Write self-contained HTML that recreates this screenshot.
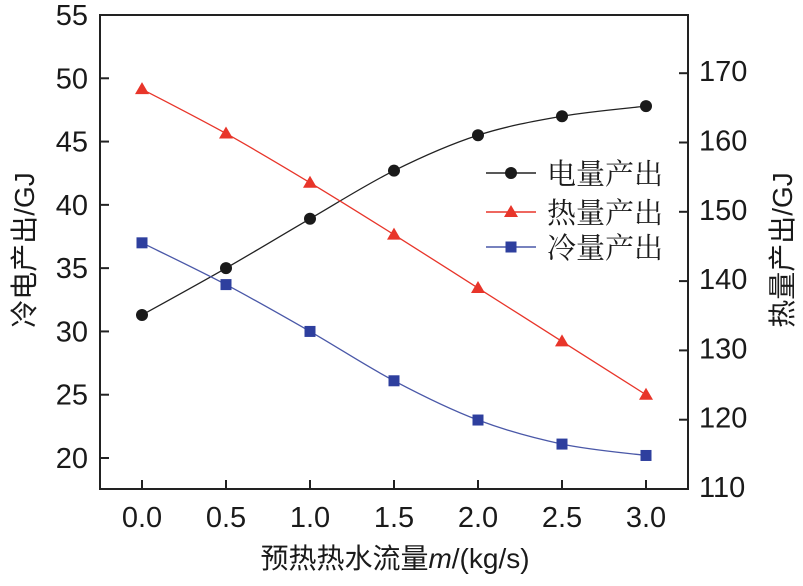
<!DOCTYPE html>
<html><head><meta charset="utf-8"><style>
body{margin:0;background:#fff;}
svg text{font-family:"Liberation Sans","Noto Sans CJK SC",sans-serif;fill:#1a1a1a;}
</style></head><body>
<svg id="chart" width="803" height="581" xmlns="http://www.w3.org/2000/svg">
<g id="axes"></g>
<g id="series"></g>
<g id="legend"></g>
</svg>
<script>
const xValues=[0,0.5,1.0,1.5,2.0,2.5,3.0];
const xTickLabels=["0.0","0.5","1.0","1.5","2.0","2.5","3.0"];
const elecValues=[31.3,35.0,38.9,42.7,45.5,47.0,47.8];
const heatValues=[167.7,161.3,154.2,146.7,139.0,131.3,123.6];
const coolValues=[37.0,33.7,30.0,26.1,23.0,21.1,20.2];
const leftTicks=[20,25,30,35,40,45,50,55];
const rightTicks=[110,120,130,140,150,160,170];

const L=100,R=688,T=15,B=489;
const sx=v=>142+(v/3)*504;
const syL=v=>15+(55-v)*(443/35);
const syR=v=>489-(v-110)*6.93;
const NS="http://www.w3.org/2000/svg";
function mk(tag,attrs,parent){const e=document.createElementNS(NS,tag);for(const k in attrs)e.setAttribute(k,attrs[k]);parent.appendChild(e);return e;}
const axes=document.getElementById('axes'),ser=document.getElementById('series'),leg=document.getElementById('legend');

let frame=mk('rect',{x:L,y:T,width:R-L,height:B-T,fill:'none',stroke:'#222','stroke-width':2},axes);


leftTicks.forEach(v=>{const y=syL(v);
 let t=mk('line',{x1:L,x2:L+9,y1:y,y2:y,stroke:'#222','stroke-width':2},axes);
 
 let tx=mk('text',{x:88,y:y+10,'text-anchor':'end','font-size':29},axes);tx.textContent=v;
 });
rightTicks.forEach(v=>{const y=syR(v);
 let t=mk('line',{x1:R-9,x2:R,y1:y,y2:y,stroke:'#222','stroke-width':2},axes);
 
 let tx=mk('text',{x:699,y:y+8,'font-size':29},axes);tx.textContent=v;
 });
xValues.forEach((v,i)=>{const x=sx(v);
 let t=mk('line',{x1:x,x2:x,y1:B-9,y2:B,stroke:'#222','stroke-width':2},axes);
 
 let tx=mk('text',{x:x,y:527,'text-anchor':'middle','font-size':29},axes);tx.textContent=xTickLabels[i];
 });

let xt=mk('text',{x:395,y:568,'text-anchor':'middle','font-size':28},axes);
xt.innerHTML='预热热水流量<tspan font-style="italic">m</tspan>/(kg/s)';

let yl=mk('text',{x:0,y:0,'text-anchor':'middle','font-size':28,transform:'translate(34,250) rotate(-90)'},axes);
yl.textContent='冷电产出/GJ';
let yr=mk('text',{x:0,y:0,'text-anchor':'middle','font-size':28,transform:'translate(792,250) rotate(-90)'},axes);
yr.textContent='热量产出/GJ';

function smooth(pts){let d=`M${pts[0][0]},${pts[0][1]}`;
 for(let i=0;i<pts.length-1;i++){const p0=pts[Math.max(i-1,0)],p1=pts[i],p2=pts[i+1],p3=pts[Math.min(i+2,pts.length-1)];
  const c1=[p1[0]+(p2[0]-p0[0])/6,p1[1]+(p2[1]-p0[1])/6],c2=[p2[0]-(p3[0]-p1[0])/6,p2[1]-(p3[1]-p1[1])/6];
  d+=`C${c1[0]},${c1[1]} ${c2[0]},${c2[1]} ${p2[0]},${p2[1]}`;}return d;}
function marker(type,x,y,color,parent){let m;
 if(type==='circle')m=mk('circle',{cx:x,cy:y,r:6,fill:color},parent);
 else if(type==='tri')m=mk('polygon',{points:`${x},${y-7} ${x-7},${y+5} ${x+7},${y+5}`,fill:color},parent);
 else m=mk('rect',{x:x-5.5,y:y-5.5,width:11,height:11,fill:color},parent);
 return m;}
const defs=[
 {name:'electricity',vals:elecValues,sy:syL,color:'#1a1a1a',line:'#222',m:'circle',label:'电量产出'},
 {name:'heat',vals:heatValues,sy:syR,color:'#e8352a',line:'#e8352a',m:'tri',label:'热量产出'},
 {name:'cooling',vals:coolValues,sy:syL,color:'#2e3f9e',line:'#4a58a8',m:'rect',label:'冷量产出'}];
defs.forEach((s,k)=>{
 const pts=xValues.map((v,i)=>[sx(v),s.sy(s.vals[i])]);
 let p=mk('path',{d:smooth(pts),fill:'none',stroke:s.line,'stroke-width':1.3},ser);
 
 pts.forEach(pt=>{let m=marker(s.m,pt[0],pt[1],s.color,ser);
  });
 const ly=[173,212,247][k];
 let ll=mk('line',{x1:486,x2:536,y1:ly,y2:ly,stroke:s.line,'stroke-width':1.5},leg);
 
 let lm=marker(s.m,511,ly,s.color,leg);
 
 let lt=mk('text',{x:547,y:ly+11,'font-size':29,style:'font-family:"Liberation Serif","Noto Serif CJK SC",serif'},leg);
 lt.textContent=s.label;
});
</script>
</body></html>
